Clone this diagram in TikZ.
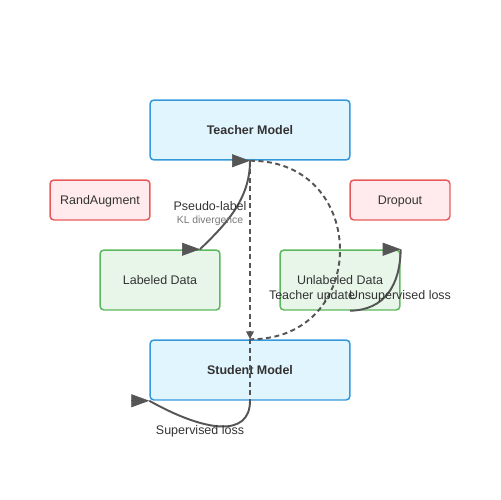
\documentclass[tikz,border=0pt]{standalone}
\usepackage{fontspec}
\setmainfont{Liberation Sans}
\usepackage{tikz}
\usetikzlibrary{arrows.meta}
\usetikzlibrary{calc}

\definecolor{bluefill}{HTML}{E1F5FE}
\definecolor{blueline}{HTML}{3498DB}
\definecolor{redfill}{HTML}{FFEBEE}
\definecolor{redline}{HTML}{E85A5A}
\definecolor{greenfill}{HTML}{E8F5E9}
\definecolor{greenline}{HTML}{5CB85C}
\definecolor{edgegray}{HTML}{555555}
\definecolor{textgray}{HTML}{333333}
\definecolor{notegray}{HTML}{777777}

\begin{document}
\begin{tikzpicture}[x=0.02cm,y=-0.02cm,
  box/.style={rounded corners=0.08cm,line width=0.85pt,text=textgray,
    font=\fontsize{7.1}{8}\selectfont,text depth=-0.02cm},
  model/.style={box,draw=blueline,fill=bluefill,minimum width=4cm,minimum height=1.2cm,
    font=\fontsize{7.1}{8}\selectfont\bfseries},
  augment/.style={box,draw=redline,fill=redfill,minimum width=2cm,minimum height=0.8cm},
  data/.style={box,draw=greenline,fill=greenfill,minimum width=2.4cm,minimum height=1.2cm},
  edge/.style={draw=edgegray,line width=1.1pt},
  dashedge/.style={draw=edgegray,line width=1.1pt,dash pattern=on 0.1cm off 0.07cm},
  tip/.style={draw=edgegray,fill=edgegray,line width=0.4pt,-{Triangle[length=0.36cm,width=0.26cm]}},
  smalltip/.style={-{Triangle[length=0.16cm,width=0.15cm]}},
  lbl/.style={text=textgray,inner sep=0pt,font=\fontsize{7.1}{8}\selectfont},
  note/.style={text=notegray,inner sep=0pt,font=\fontsize{5.9}{7}\selectfont}]
  \useasboundingbox (0,0) rectangle (500,500);
  % boxes
  \node[model] (teacher) at (250,130) {Teacher Model};
  \node[augment] (randaug) at (100,200) {RandAugment};
  \node[augment] (dropout) at (400,200) {Dropout};
  \node[data] (labeled) at (160,280) {Labeled Data};
  \node[data] (unlabeled) at (340,280) {Unlabeled Data};
  \node[model] (student) at (250,370) {Student Model};
  % connectors
  \coordinate (pseudoend) at ($(labeled.north)+(40,0)$);
  \coordinate (unsupstart) at ($(unlabeled.south)+(10,0)$);
  \draw[edge] (teacher.south) .. controls (250,200) and (225,225) .. (pseudoend);
  \draw[dashedge,smalltip] (teacher.south) -- (student.north);
  \draw[dashedge] (student.north) -- (student.south);
  \draw[dashedge] (teacher.south) .. controls (370,160) and (370,340) .. (student.north);
  \draw[edge] (unsupstart) .. controls (385,310) and (400,285) .. (unlabeled.north east);
  \draw[edge] (student.south) .. controls (250,438) and (205,432) .. (student.south west);
  \draw[tip] ($(teacher.south)-(1,0)$) -- (teacher.south);
  \draw[tip] ($(pseudoend)-(1,0)$) -- (pseudoend);
  \draw[tip] ($(unlabeled.north east)-(1,0)$) -- (unlabeled.north east);
  \draw[tip] ($(student.south west)-(1,0)$) -- (student.south west);
  % labels
  \node[lbl] (pseudo) at (210,206) {Pseudo-label};
  \node[note] (kl) at (210,221) {KL divergence};
  \node[lbl] (tupdate) at (312,296) {Teacher update};
  \node[lbl] (unsup) at (400,296) {Unsupervised loss};
  \node[lbl] (sup) at (200,431) {Supervised loss};
\end{tikzpicture}
\end{document}
